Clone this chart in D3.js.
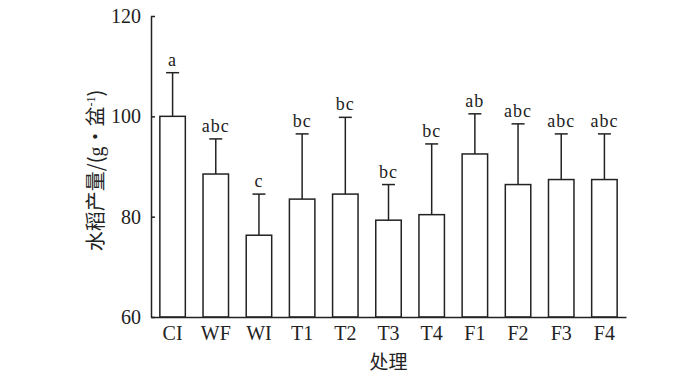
<!DOCTYPE html>
<html>
<head>
<meta charset="utf-8">
<script src="https://cdn.jsdelivr.net/npm/d3@7"></script>
<style>
  body { margin: 0; background: #fff; }
  text { font-family: "Liberation Serif", "Times New Roman", serif; fill: #222; }
  .cjk { font-family: "Noto Sans CJK SC", sans-serif; }
</style>
</head>
<body>
<svg id="chart" width="700" height="378"></svg>
<script>
var groups = ["CI", "WF", "WI", "T1", "T2", "T3", "T4", "F1", "F2", "F3", "F4"];
var yieldMean = [100, 88.5, 76.3, 83.5, 84.5, 79.3, 80.4, 92.5, 86.4, 87.4, 87.4];
var yieldErr = [8.7, 7.0, 8.2, 13.0, 15.3, 7.1, 14.1, 8.0, 12.1, 9.1, 9.1];
var sigLetters = ["a", "abc", "c", "bc", "bc", "bc", "bc", "ab", "abc", "abc", "abc"];
var yTicks = [60, 80, 100, 120];

var plotL = 151, plotR = 626, plotT = 16, plotB = 317;
var ink = "#222";

var data = groups.map(function (g, i) {
    return { name: g, mean: yieldMean[i], err: yieldErr[i], sig: sigLetters[i] };
});

var svg = d3.select("#chart");

var x = d3.scaleBand()
    .domain(groups)
    .range([plotL, plotR])
    .paddingInner(0.41)
    .paddingOuter(0.205);

var y = d3.scaleLinear()
    .domain([60, 120])
    .range([plotB, plotT]);

// bars
svg.selectAll(".bar")
    .data(data)
    .enter().append("rect")
    .attr("class", "bar")
    .attr("x", d => x(d.name))
    .attr("y", d => y(d.mean))
    .attr("width", x.bandwidth())
    .attr("height", d => y(60) - y(d.mean))
    .attr("fill", "#fff")
    .attr("stroke", ink)
    .attr("stroke-width", 1.5);

// error bars (upper only)
var eb = svg.selectAll(".err")
    .data(data)
    .enter().append("g")
    .attr("class", "err")
    .attr("stroke", ink)
    .attr("stroke-width", 1.5);

eb.append("line")
    .attr("x1", d => x(d.name) + x.bandwidth() / 2)
    .attr("x2", d => x(d.name) + x.bandwidth() / 2)
    .attr("y1", d => y(d.mean))
    .attr("y2", d => y(d.mean + d.err));

eb.append("line")
    .attr("x1", d => x(d.name) + x.bandwidth() / 2 - 6.5)
    .attr("x2", d => x(d.name) + x.bandwidth() / 2 + 6.5)
    .attr("y1", d => y(d.mean + d.err))
    .attr("y2", d => y(d.mean + d.err));

// significance letters
svg.selectAll(".sig")
    .data(data)
    .enter().append("text")
    .attr("class", "sig")
    .attr("x", d => x(d.name) + x.bandwidth() / 2)
    .attr("y", d => y(d.mean + d.err) - 7)
    .attr("text-anchor", "middle")
    .attr("font-size", 18)
    .attr("letter-spacing", 1)
    .text(d => d.sig);

// y axis
var yAxis = d3.axisLeft(y)
    .tickValues(yTicks)
    .tickSizeInner(-4)
    .tickSizeOuter(0)
    .tickPadding(10);

var gy = svg.append("g")
    .attr("transform", "translate(" + plotL + ",0)")
    .call(yAxis);
gy.select(".domain").attr("stroke", ink).attr("stroke-width", 1.5);
gy.selectAll(".tick line").attr("stroke", ink).attr("stroke-width", 1.5);
gy.selectAll(".tick text")
    .attr("font-size", 20)
    .attr("font-family", "Liberation Serif, serif")
    .attr("fill", ink);

// x axis
var xAxis = d3.axisBottom(x)
    .tickSize(0)
    .tickPadding(9);

var gx = svg.append("g")
    .attr("transform", "translate(0," + plotB + ")")
    .call(xAxis);
gx.select(".domain").attr("stroke", ink).attr("stroke-width", 1.5);
gx.selectAll(".tick text")
    .attr("font-size", 20)
    .attr("font-family", "Liberation Serif, serif")
    .attr("fill", ink);

// axis titles
svg.append("text")
    .attr("class", "cjk")
    .attr("x", (plotL + plotR) / 2)
    .attr("y", 369)
    .attr("text-anchor", "middle")
    .attr("font-size", 19)
    .text("处理");

var yt = svg.append("text")
    .attr("class", "cjk")
    .attr("transform", "translate(103," + ((plotT + plotB) / 2 + 4) + ") rotate(-90)")
    .attr("text-anchor", "middle")
    .attr("font-size", 20);
yt.append("tspan").text("水稻产量/(");
yt.append("tspan").attr("font-family", "Liberation Serif, serif").text("g");
yt.append("tspan").text("·盆");
yt.append("tspan").attr("font-family", "Liberation Serif, serif").attr("font-size", 12).attr("dy", -8).text("-1");
yt.append("tspan").attr("dy", 8).text(")");
</script>
</body>
</html>
